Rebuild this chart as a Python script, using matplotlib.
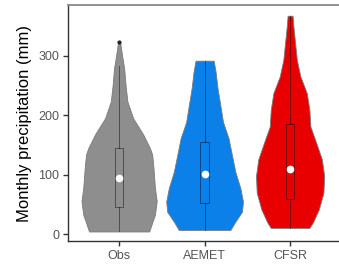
import numpy as np
import matplotlib.pyplot as plt

plt.rcParams["font.family"] = ["Liberation Sans", "DejaVu Sans"]

groups = ["Obs", "AEMET", "CFSR"]
colors = ["#8e8e8e", "#0a80e8", "#e80000"]

# violin outlines: value (mm) and half width (x units)
obs_y = [323, 300, 279, 250, 223, 195, 168, 145, 134, 112, 78, 56, 33, 20, 5]
obs_w = [0.012, 0.035, 0.059, 0.076, 0.097, 0.164, 0.281, 0.36, 0.387, 0.402, 0.419, 0.44, 0.419, 0.387, 0.352]
aemet_y = [291.6, 273, 245, 217, 189, 161, 133, 105, 77.5, 55, 38, 21.5, 7.5]
aemet_w = [0.106, 0.129, 0.152, 0.184, 0.215, 0.281, 0.32, 0.36, 0.419, 0.449, 0.437, 0.36, 0.301]
cfsr_y = [367, 349, 321, 293, 265, 237, 209, 181, 154, 126, 98, 70, 42, 20, 11]
cfsr_w = [0.029, 0.039, 0.059, 0.079, 0.121, 0.196, 0.226, 0.238, 0.305, 0.372, 0.399, 0.39, 0.336, 0.266, 0.226]

# box stats: whisker low, q1, median, q3, whisker high
q1 = [46, 53.4, 59]
med = [95.5, 101.5, 110.5]
q3 = [145, 154.7, 185]
wlo = [5, 7.5, 11]
whi = [282, 291.6, 367]
outliers = [[323], [], []]

fig = plt.figure(figsize=(3.39, 2.75), dpi=100)
ax = fig.add_axes([0.2, 0.1236, 0.807, 0.8582])

profiles = [(obs_y, obs_w), (aemet_y, aemet_w), (cfsr_y, cfsr_w)]
for i, (py, pw) in enumerate(profiles):
    x0 = i + 1
    py = np.array(py)
    pw = np.array(pw)
    ax.fill_betweenx(py, x0 - pw, x0 + pw, facecolor=colors[i],
                     edgecolor="#7a7a7a", linewidth=0.6, zorder=2)
    # whiskers
    ax.plot([x0, x0], [wlo[i], q1[i]], color="black", alpha=0.45, lw=0.7, zorder=3)
    ax.plot([x0, x0], [q3[i], whi[i]], color="black", alpha=0.45, lw=0.7, zorder=3)
    # box
    ax.add_patch(plt.Rectangle((x0 - 0.05, q1[i]), 0.1, q3[i] - q1[i],
                               facecolor="none", edgecolor=(0, 0, 0, 0.45),
                               lw=0.7, zorder=3))
    ax.plot(x0, med[i], "o", color="white", ms=4.5, mec="white", zorder=4)
    for o in outliers[i]:
        ax.plot(x0, o, "o", color="#222222", ms=2, zorder=4)

ax.set_xlim(0.4, 3.6)
ax.set_ylim(-11, 385)
ax.set_xticks([1, 2, 3])
ax.set_xticklabels(groups)
ax.set_yticks([0, 100, 200, 300])
ax.set_ylabel("Monthly precipitation (mm)", fontsize=12, labelpad=4)

ax.spines["right"].set_visible(False)
ax.spines["top"].set_color("#888888")
ax.spines["top"].set_linewidth(1.3)
for s in ["left", "bottom"]:
    ax.spines[s].set_color("#333333")
    ax.spines[s].set_linewidth(1.0)
ax.tick_params(axis="both", length=3.8, width=1.0, color="#333333",
               labelcolor="#555555", pad=2.5)
ax.tick_params(axis="x", labelsize=9)
ax.tick_params(axis="y", labelsize=9)

fig.savefig("out.png", dpi=100)
